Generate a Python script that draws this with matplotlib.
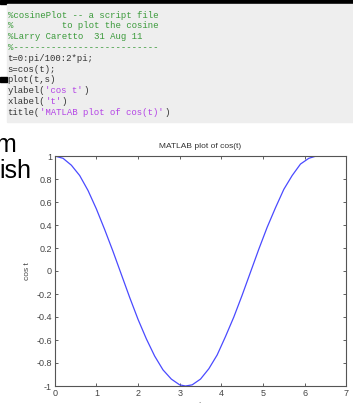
import matplotlib.pyplot as plt
from matplotlib.patches import Rectangle

plt.rcParams['axes.unicode_minus'] = False

# values
t = [0.0, 0.2, 0.4, 0.6, 0.8, 1.0, 1.2, 1.4, 1.6, 1.8, 2.0, 2.2, 2.4, 2.6, 2.8, 3.0,
     3.14, 3.3, 3.5, 3.7, 3.9, 4.1, 4.3, 4.5, 4.7, 4.9, 5.1, 5.3, 5.5, 5.7, 5.9, 6.1, 6.28]
s = [1.00, 0.98, 0.92, 0.83, 0.70, 0.54, 0.36, 0.17, -0.03, -0.23, -0.42, -0.59, -0.74,
     -0.86, -0.94, -0.99, -1.00, -0.99, -0.94, -0.85, -0.73, -0.57, -0.40, -0.21, -0.01,
     0.19, 0.38, 0.55, 0.71, 0.83, 0.93, 0.98, 1.00]
xticks = [0, 1, 2, 3, 4, 5, 6, 7]
yticks = [-1, -0.8, -0.6, -0.4, -0.2, 0, 0.2, 0.4, 0.6, 0.8, 1]
ytick_labels = ['-1', '-0.8', '-0.6', '-0.4', '-0.2', '0', '0.2', '0.4', '0.6', '0.8', '1']

GREEN = '#3a9a3a'
PURPLE = '#b444e6'
DARK = '#333333'
code_lines = [
    [('%cosinePlot -- a script file', GREEN)],
    [('%         to plot the cosine', GREEN)],
    [('%Larry Caretto  31 Aug 11', GREEN)],
    [('%' + '-' * 27, GREEN)],
    [('t=0:pi/100:2*pi;', DARK)],
    [('s=cos(t);', DARK)],
    [('plot(t,s)', DARK)],
    [('ylabel(', DARK), ("'cos t'", PURPLE), (')', DARK)],
    [('xlabel(', DARK), ("'t'", PURPLE), (')', DARK)],
    [('title(', DARK), ("'MATLAB plot of cos(t)'", PURPLE), (')', DARK)],
]

W, H = 353, 403
fig = plt.figure(figsize=(W / 100, H / 100), dpi=100)


def fx(px):
    return px / W


def fy(py):
    return 1 - py / H


# slide background pieces
fig.patches.append(Rectangle((0, fy(3.5)), 1, 3.5 / H, transform=fig.transFigure,
                             color='black', zorder=0))
fig.patches.append(Rectangle((fx(7), fy(122)), 1, (122 - 3.5) / H,
                             transform=fig.transFigure, color='#eeeeee', zorder=0))
fig.patches.append(Rectangle((0, fy(81.5)), fx(6.7), 4.8 / H, transform=fig.transFigure,
                             color='black', zorder=1))

# code listing
char_w = 0.6 * 6.5 * 100 / 72
for i, segs in enumerate(code_lines):
    y = 14 + 10.8 * i
    col = 0
    for txt, c in segs:
        fig.text(fx(7.5 + col * char_w), fy(y), txt, color=c, family='Liberation Mono',
                 fontsize=6.5, va='center_baseline', ha='left')
        col += len(txt)

# cut-off slide words at left
fig.text(fx(16), fy(152), 'm', fontsize=18, family='Liberation Sans', ha='right',
         va='baseline', color='black')
fig.text(fx(-1), fy(178), 'ish', fontsize=18, family='Liberation Sans', ha='left',
         va='baseline', color='black')

# the MATLAB figure
ax = fig.add_axes([fx(54.7), fy(386), (346.3 - 54.7) / W, (386 - 156) / H])
ax.plot(t, s, color='#4a4aff', lw=0.9)
ax.set_xlim(0, 7)
ax.set_ylim(-1, 1)
ax.set_xticks(xticks)
ax.set_yticks(yticks, ytick_labels)
ax.tick_params(direction='in', length=2.5, width=0.6, top=True, right=True,
               labelsize=6.5, colors='#444444', pad=2)
for lab in ax.get_xticklabels() + ax.get_yticklabels():
    lab.set_family('Liberation Sans')
for sp in ax.spines.values():
    sp.set_color('#555555')
    sp.set_linewidth(0.8)
ax.set_title('MATLAB plot of cos(t)', fontsize=6, family='Liberation Sans',
             color='#333333', pad=6)
ax.set_ylabel('cos t', fontsize=6, family='Liberation Sans', color='#444444', labelpad=4)
ax.set_xlabel('t', fontsize=6, family='Liberation Sans', color='#444444', labelpad=3)

fig.savefig('out.png', dpi=100)
